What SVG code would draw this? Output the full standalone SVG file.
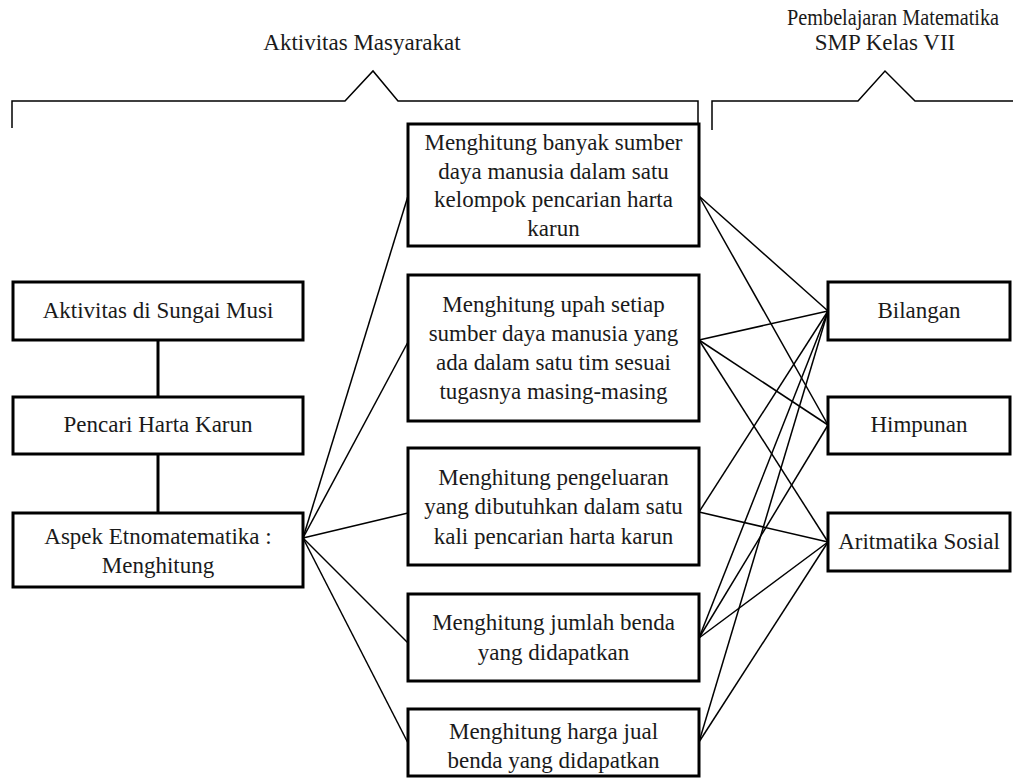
<svg xmlns="http://www.w3.org/2000/svg" width="1013" height="778" viewBox="0 0 1013 778">
<style>
.box{fill:#fff;stroke:#000;stroke-width:3}
.t{font-family:"Liberation Serif","Times New Roman",serif;font-size:23px;fill:#1a1a1a;text-anchor:middle}
.ln{stroke:#000;stroke-width:1.5;fill:none}
.thick{stroke:#000;stroke-width:3;fill:none}
</style>
<rect width="1013" height="778" fill="#fff"/>
<g id="brackets">
<text class="t" x="362" y="50">Aktivitas Masyarakat</text>
<text class="t" x="893" y="25" font-size="22" textLength="212" lengthAdjust="spacingAndGlyphs">Pembelajaran Matematika</text>
<text class="t" x="885" y="50">SMP Kelas VII</text>
<polyline class="ln" points="12,128 12,101 345,101 373,71 398,101 698,101 698,125"/>
<polyline class="ln" points="712,130 712,101 858,101 885,71 915,101 1013,101"/>
</g>
<g id="connectors">
<line class="thick" x1="158" y1="341" x2="158" y2="397"/>
<line class="thick" x1="158" y1="454" x2="158" y2="513"/>
<line class="ln" x1="303" y1="538" x2="408" y2="196"/>
<line class="ln" x1="303" y1="538" x2="408" y2="342"/>
<line class="ln" x1="303" y1="538" x2="408" y2="513"/>
<line class="ln" x1="303" y1="538" x2="408" y2="643"/>
<line class="ln" x1="303" y1="538" x2="408" y2="743"/>
<line class="ln" x1="699" y1="196" x2="828" y2="311"/>
<line class="ln" x1="699" y1="196" x2="828" y2="425"/>
<line class="ln" x1="699" y1="340" x2="828" y2="311"/>
<line class="ln" x1="699" y1="340" x2="828" y2="425"/>
<line class="ln" x1="699" y1="340" x2="828" y2="542"/>
<line class="ln" x1="699" y1="512" x2="828" y2="311"/>
<line class="ln" x1="699" y1="512" x2="828" y2="542"/>
<line class="ln" x1="699" y1="638" x2="828" y2="311"/>
<line class="ln" x1="699" y1="638" x2="828" y2="425"/>
<line class="ln" x1="699" y1="638" x2="828" y2="542"/>
<line class="ln" x1="699" y1="742" x2="828" y2="311"/>
<line class="ln" x1="699" y1="742" x2="828" y2="542"/>
</g>
<g id="n-sungai"><rect class="box" x="13" y="282" width="290" height="58"/><text class="t" x="158" y="318">Aktivitas di Sungai Musi</text></g>
<g id="n-pencari"><rect class="box" x="13" y="397" width="290" height="57"/><text class="t" x="158" y="432">Pencari Harta Karun</text></g>
<g id="n-aspek"><rect class="box" x="13" y="513" width="290" height="74"/><text class="t" x="158" y="544">Aspek Etnomatematika :</text><text class="t" x="158" y="573">Menghitung</text></g>
<g id="n-m1"><rect class="box" x="408" y="124" width="291" height="122"/><text class="t" x="553.5" y="150">Menghitung banyak sumber</text><text class="t" x="553.5" y="178.5">daya manusia dalam satu</text><text class="t" x="553.5" y="207">kelompok pencarian harta</text><text class="t" x="553.5" y="235.5">karun</text></g>
<g id="n-m2"><rect class="box" x="408" y="275" width="291" height="146"/><text class="t" x="553.5" y="312">Menghitung upah setiap</text><text class="t" x="553.5" y="341">sumber daya manusia yang</text><text class="t" x="553.5" y="370">ada dalam satu tim sesuai</text><text class="t" x="553.5" y="399">tugasnya masing-masing</text></g>
<g id="n-m3"><rect class="box" x="408" y="448" width="291" height="117"/><text class="t" x="553.5" y="485">Menghitung pengeluaran</text><text class="t" x="553.5" y="514">yang dibutuhkan dalam satu</text><text class="t" x="553.5" y="544">kali pencarian harta karun</text></g>
<g id="n-m4"><rect class="box" x="408" y="594" width="291" height="87"/><text class="t" x="553.5" y="630">Menghitung jumlah benda</text><text class="t" x="553.5" y="660">yang didapatkan</text></g>
<g id="n-m5"><rect class="box" x="408" y="709" width="291" height="67"/><text class="t" x="553.5" y="739">Menghitung harga jual</text><text class="t" x="553.5" y="768">benda yang didapatkan</text></g>
<g id="n-bilangan"><rect class="box" x="828" y="282" width="182" height="58"/><text class="t" x="919" y="318">Bilangan</text></g>
<g id="n-himpunan"><rect class="box" x="828" y="397" width="182" height="57"/><text class="t" x="919" y="432">Himpunan</text></g>
<g id="n-aritmatika"><rect class="box" x="828" y="513" width="182" height="58"/><text class="t" x="919" y="549">Aritmatika Sosial</text></g>
</svg>
